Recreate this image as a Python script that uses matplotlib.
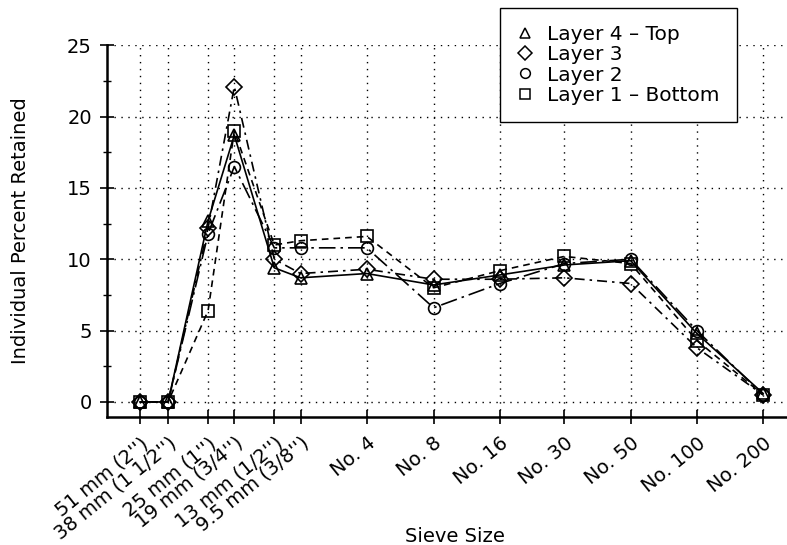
import numpy as np
import matplotlib
matplotlib.use("Agg")
import matplotlib.pyplot as plt
import matplotlib.transforms as mtransforms
from matplotlib.ticker import FixedLocator, NullLocator, MultipleLocator

# sieve openings in mm (log scale, coarse on the left)
sieve_mm = [51, 38, 25, 19, 12.5, 9.5, 4.75, 2.36, 1.18, 0.6, 0.3, 0.15, 0.075]
sieve_labels = ["51 mm (2'')", "38 mm (1 1/2'')", "25 mm (1'')", "19 mm (3/4'')",
                "13 mm (1/2'')", "9.5 mm (3/8'')", "No. 4", "No. 8", "No. 16",
                "No. 30", "No. 50", "No. 100", "No. 200"]

layer4 = [0, 0, 12.7, 18.7, 9.4, 8.7, 9.0, 8.2, 8.9, 9.6, 9.9, 4.8, 0.6]
layer3 = [0, 0, 12.2, 22.1, 10.0, 9.0, 9.3, 8.6, 8.6, 8.7, 8.3, 3.8, 0.5]
layer2 = [0, 0, 11.8, 16.5, 10.8, 10.8, 10.8, 6.6, 8.3, 9.7, 10.0, 5.0, 0.5]
layer1 = [0, 0, 6.4, 19.0, 11.0, 11.3, 11.6, 8.0, 9.2, 10.2, 9.7, 4.3, 0.5]

series = [
    ("Layer 4 \u2013 Top", layer4, "^", "-"),
    ("Layer 3", layer3, "D", (0, (6, 3, 1.5, 3))),
    ("Layer 2", layer2, "o", (0, (10, 3, 1.5, 3))),
    ("Layer 1 \u2013 Bottom", layer1, "s", (0, (4, 3))),
]

plt.rcParams['font.family'] = ['DejaVu Sans']

fig = plt.figure(figsize=(7.87, 5.45), dpi=100)
ax = fig.add_axes([0.136, 0.235, 0.864, 0.682])

for name, vals, mk, ls in series:
    ax.plot(sieve_mm, vals, color='black', linestyle=ls, linewidth=1.2,
            marker=mk, markersize=8.5 if mk != "D" else 8,
            markerfacecolor='none', markeredgecolor='black',
            markeredgewidth=1.2, label=name)

ax.set_xscale('log')
ax.set_xlim(72, 0.0584)
ax.set_ylim(-1.05, 25)

ax.xaxis.set_major_locator(FixedLocator(sieve_mm))
ax.xaxis.set_minor_locator(NullLocator())
ax.set_xticklabels(sieve_labels, rotation=39, ha='right', va='top',
                   rotation_mode='anchor', fontsize=14)
# nudge the slanted labels a little to the right
shift = mtransforms.ScaledTranslation(6 / 100, 0, fig.dpi_scale_trans)
for lbl in ax.get_xticklabels():
    lbl.set_transform(lbl.get_transform() + shift)

ax.yaxis.set_major_locator(MultipleLocator(5))
ax.yaxis.set_minor_locator(MultipleLocator(2.5))
ax.tick_params(axis='y', labelsize=14, pad=6)

ax.tick_params(which='major', direction='inout', length=10, width=1.2)
ax.tick_params(which='minor', direction='inout', length=6, width=1.0)
ax.tick_params(axis='x', pad=7)

ax.grid(True, which='major', linestyle=(0, (1, 4)), color='black', linewidth=1.0)

for side in ['top', 'right']:
    ax.spines[side].set_visible(False)
for side in ['left', 'bottom']:
    ax.spines[side].set_linewidth(1.8)

ax.set_xlabel("Sieve Size", fontsize=14)
ax.xaxis.set_label_coords(0.512, -0.296)
ax.set_ylabel("Individual Percent Retained", fontsize=14)
ax.yaxis.set_label_coords(-0.114, 0.5)

leg_handles = []
for name, vals, mk, ls in series:
    h, = ax.plot([], [], linestyle='none', marker=mk, markersize=7,
                 markerfacecolor='none', markeredgecolor='black',
                 markeredgewidth=1.1, label=name)
    leg_handles.append(h)
leg = ax.legend(handles=leg_handles, loc='upper left',
                bbox_to_anchor=(500 / 787, 1 - 8 / 545),
                bbox_transform=fig.transFigure,
                frameon=True, fancybox=False, edgecolor='black', framealpha=1,
                fontsize=14.5, handlelength=0.8, handletextpad=0.7,
                labelspacing=0.06, borderpad=0.85, borderaxespad=0)
leg.get_frame().set_linewidth(1.0)

fig.savefig("out.png", dpi=100)
